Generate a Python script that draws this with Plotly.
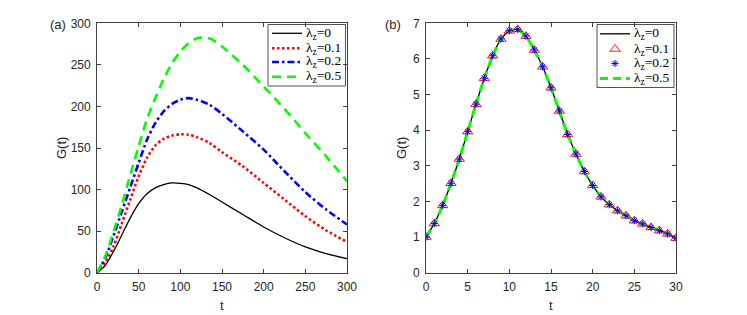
import plotly.graph_objects as go

# ---------------- data ----------------
t_a = [0, 10, 20, 30, 40, 50, 60, 70, 80, 90, 100, 110, 120, 135, 150, 175, 200, 225, 250, 275, 300]
G_a_lam0 = [0, 9, 26, 46, 66, 83, 95, 102, 106, 108, 107.5, 106, 102, 94, 85, 70, 55, 42, 31, 23, 17]
G_a_lam01 = [0, 12, 32, 60, 88, 116, 138, 153, 161, 165, 166.5, 166, 163, 156, 145, 128, 108, 88, 68, 51, 37]
G_a_lam02 = [0, 18, 45, 74, 103, 132, 160, 180, 194, 203, 208, 210, 208, 202, 191, 170, 148, 122, 97, 76, 58]
G_a_lam05 = [0, 20, 50, 82, 118, 152, 185, 210, 233, 252, 266, 276, 282, 282, 272, 250, 224, 197, 168, 140, 110]

t_b = [0, 1, 2, 3, 4, 5, 6, 7, 8, 9, 10, 11, 12, 13, 14, 15, 16, 17, 18, 19, 20,
       21, 22, 23, 24, 25, 26, 27, 28, 29, 30]
G_b_lam0 = [1.0, 1.38, 1.89, 2.51, 3.19, 3.96, 4.73, 5.46, 6.09, 6.56, 6.79, 6.83, 6.64, 6.25,
            5.78, 5.19, 4.54, 3.88, 3.33, 2.84, 2.45, 2.13, 1.91, 1.74, 1.60, 1.46, 1.37, 1.27,
            1.18, 1.09, 0.97]
G_b_lam01 = list(G_b_lam0)   # visually identical curves
G_b_lam02 = list(G_b_lam0)
G_b_lam05 = list(G_b_lam0)

legend_labels = ["λ<sub>z</sub>=0", "λ<sub>z</sub>=0.1", "λ<sub>z</sub>=0.2", "λ<sub>z</sub>=0.5"]
ticks_a = [0, 50, 100, 150, 200, 250, 300]
ticks_bx = [0, 5, 10, 15, 20, 25, 30]
ticks_by = [0, 1, 2, 3, 4, 5, 6, 7]

# ---------------- layout helpers ----------------
W, H = 747, 315
AX_L, AX_R = 97, 347
BX_L, BX_R = 426, 676
AX_T, AX_B = 23.3, 272.7

def px(x):
    return x / W
def py(y):
    return 1 - y / H
def b_data_x(pix):
    return (pix - BX_L) / (BX_R - BX_L) * 30
def b_data_y(pix):
    return (AX_B - pix) / (AX_B - AX_T) * 7

BLACK = "#000000"
RED = "#ff0000"
BLUE = "#0000ff"
GREEN = "#00ff00"

fig = go.Figure()

# panel (a)
styles_a = [
    (G_a_lam0, dict(color=BLACK, width=1.3)),
    (G_a_lam01, dict(color=RED, width=2.6, dash="2.5px,2.5px")),
    (G_a_lam02, dict(color=BLUE, width=2.6, dash="7px,3px,2.5px,3px")),
    (G_a_lam05, dict(color=GREEN, width=2.6, dash="9px,6px")),
]
for (vals, ln), lab in zip(styles_a, legend_labels):
    fig.add_trace(go.Scatter(x=t_a, y=vals, mode="lines",
                             line=dict(shape="spline", smoothing=0.8, **ln),
                             name=lab, showlegend=False, xaxis="x", yaxis="y"))

# panel (b)
tri = dict(symbol="triangle-up-open", size=9, color=RED, line=dict(width=0.9, color=RED))
ast = dict(symbol="asterisk-open", size=6, color=BLUE, line=dict(width=1, color=BLUE))
fig.add_trace(go.Scatter(x=t_b, y=G_b_lam0, mode="lines",
                         line=dict(color=BLACK, width=1.3, shape="spline", smoothing=0.6),
                         showlegend=False, xaxis="x2", yaxis="y2"))
fig.add_trace(go.Scatter(x=t_b, y=G_b_lam05, mode="lines",
                         line=dict(color=GREEN, width=3, dash="8px,5px", shape="spline", smoothing=0.6),
                         showlegend=False, xaxis="x2", yaxis="y2"))
fig.add_trace(go.Scatter(x=t_b, y=G_b_lam01, mode="markers", marker=tri,
                         showlegend=False, xaxis="x2", yaxis="y2"))
fig.add_trace(go.Scatter(x=t_b, y=G_b_lam02, mode="markers", marker=ast,
                         showlegend=False, xaxis="x2", yaxis="y2"))

leg_y_b = [33.8, 49.0, 63.5, 78.5]
# legend sample markers for (b)
fig.add_trace(go.Scatter(x=[b_data_x(615)], y=[b_data_y(leg_y_b[1])], mode="markers", marker=tri,
                         showlegend=False, xaxis="x2", yaxis="y2", hoverinfo="skip"))
fig.add_trace(go.Scatter(x=[b_data_x(615)], y=[b_data_y(leg_y_b[2])], mode="markers", marker=ast,
                         showlegend=False, xaxis="x2", yaxis="y2", hoverinfo="skip"))

axis_common = dict(showline=True, linecolor="#404040", linewidth=0.8, mirror="ticks",
                   ticks="inside", ticklen=4, tickwidth=0.8, tickcolor="#404040",
                   showgrid=False, zeroline=False, automargin=False, ticklabelstandoff=3,
                   tickfont=dict(family="Liberation Sans", size=12, color="#262626"))

fig.update_layout(
    template="none",
    width=W, height=H, margin=dict(l=0, r=0, t=0, b=0, autoexpand=False),
    paper_bgcolor="white", plot_bgcolor="white",
    xaxis=dict(domain=[px(AX_L), px(AX_R)], range=[0, 300], tickvals=ticks_a, anchor="y", **axis_common),
    yaxis=dict(domain=[py(AX_B), py(AX_T)], range=[0, 300], tickvals=ticks_a, anchor="x", **axis_common),
    xaxis2=dict(domain=[px(BX_L), px(BX_R)], range=[0, 30], tickvals=ticks_bx, anchor="y2", **axis_common),
    yaxis2=dict(domain=[py(AX_B), py(AX_T)], range=[0, 7], tickvals=ticks_by, anchor="x2", **axis_common),
    showlegend=False,
)

shapes = []
annotations = []

# legend (a)
shapes.append(dict(type="rect", xref="paper", yref="paper", x0=px(268), x1=px(345.5), y0=py(86), y1=py(24.5),
                   line=dict(color="#262626", width=0.8), layer="above"))
leg_y_a = [33.3, 48.3, 62.0, 76.7]
for (vals, ln), yy, lab in zip(styles_a, leg_y_a, legend_labels):
    shapes.append(dict(type="line", xref="paper", yref="paper", x0=px(272), x1=px(302), y0=py(yy), y1=py(yy),
                       line=ln, layer="above"))
    annotations.append(dict(text=lab, xref="paper", yref="paper", x=px(304), y=py(yy),
                            xanchor="left", yanchor="middle", showarrow=False,
                            font=dict(family="Liberation Serif", size=13.5, color="black")))

# legend (b)
shapes.append(dict(type="rect", xref="paper", yref="paper", x0=px(597), x1=px(674), y0=py(87.5), y1=py(24.5),
                   line=dict(color="#262626", width=0.8), layer="above"))
shapes.append(dict(type="line", xref="paper", yref="paper", x0=px(600), x1=px(630),
                   y0=py(leg_y_b[0]), y1=py(leg_y_b[0]), line=dict(color=BLACK, width=1.3), layer="above"))
shapes.append(dict(type="line", xref="paper", yref="paper", x0=px(600), x1=px(630),
                   y0=py(leg_y_b[3]), y1=py(leg_y_b[3]), line=dict(color=GREEN, width=3, dash="8px,5px"), layer="above"))
for yy, lab in zip(leg_y_b, legend_labels):
    annotations.append(dict(text=lab, xref="paper", yref="paper", x=px(632), y=py(yy),
                            xanchor="left", yanchor="middle", showarrow=False,
                            font=dict(family="Liberation Serif", size=13.5, color="black")))

# panel labels and axis titles
lab_font = dict(family="Liberation Sans", size=13, color="#262626")
def label(text, x, y, angle=0):
    return dict(text=text, xref="paper", yref="paper", x=px(x), y=py(y), textangle=angle,
                xanchor="center", yanchor="middle", showarrow=False, font=lab_font)

annotations += [
    label("(a)", 57.5, 24.5),
    label("(b)", 393, 24.5),
    label("G(t)", 61, 148, -90),
    label("G(t)", 401, 148, -90),
    label("t", 222, 305),
    label("t", 551, 305),
]

fig.update_layout(shapes=shapes, annotations=annotations)
fig.write_html("out.html", config={"displayModeBar": False},
               post_script="document.body.style.margin='0';document.body.style.overflow='hidden';")
